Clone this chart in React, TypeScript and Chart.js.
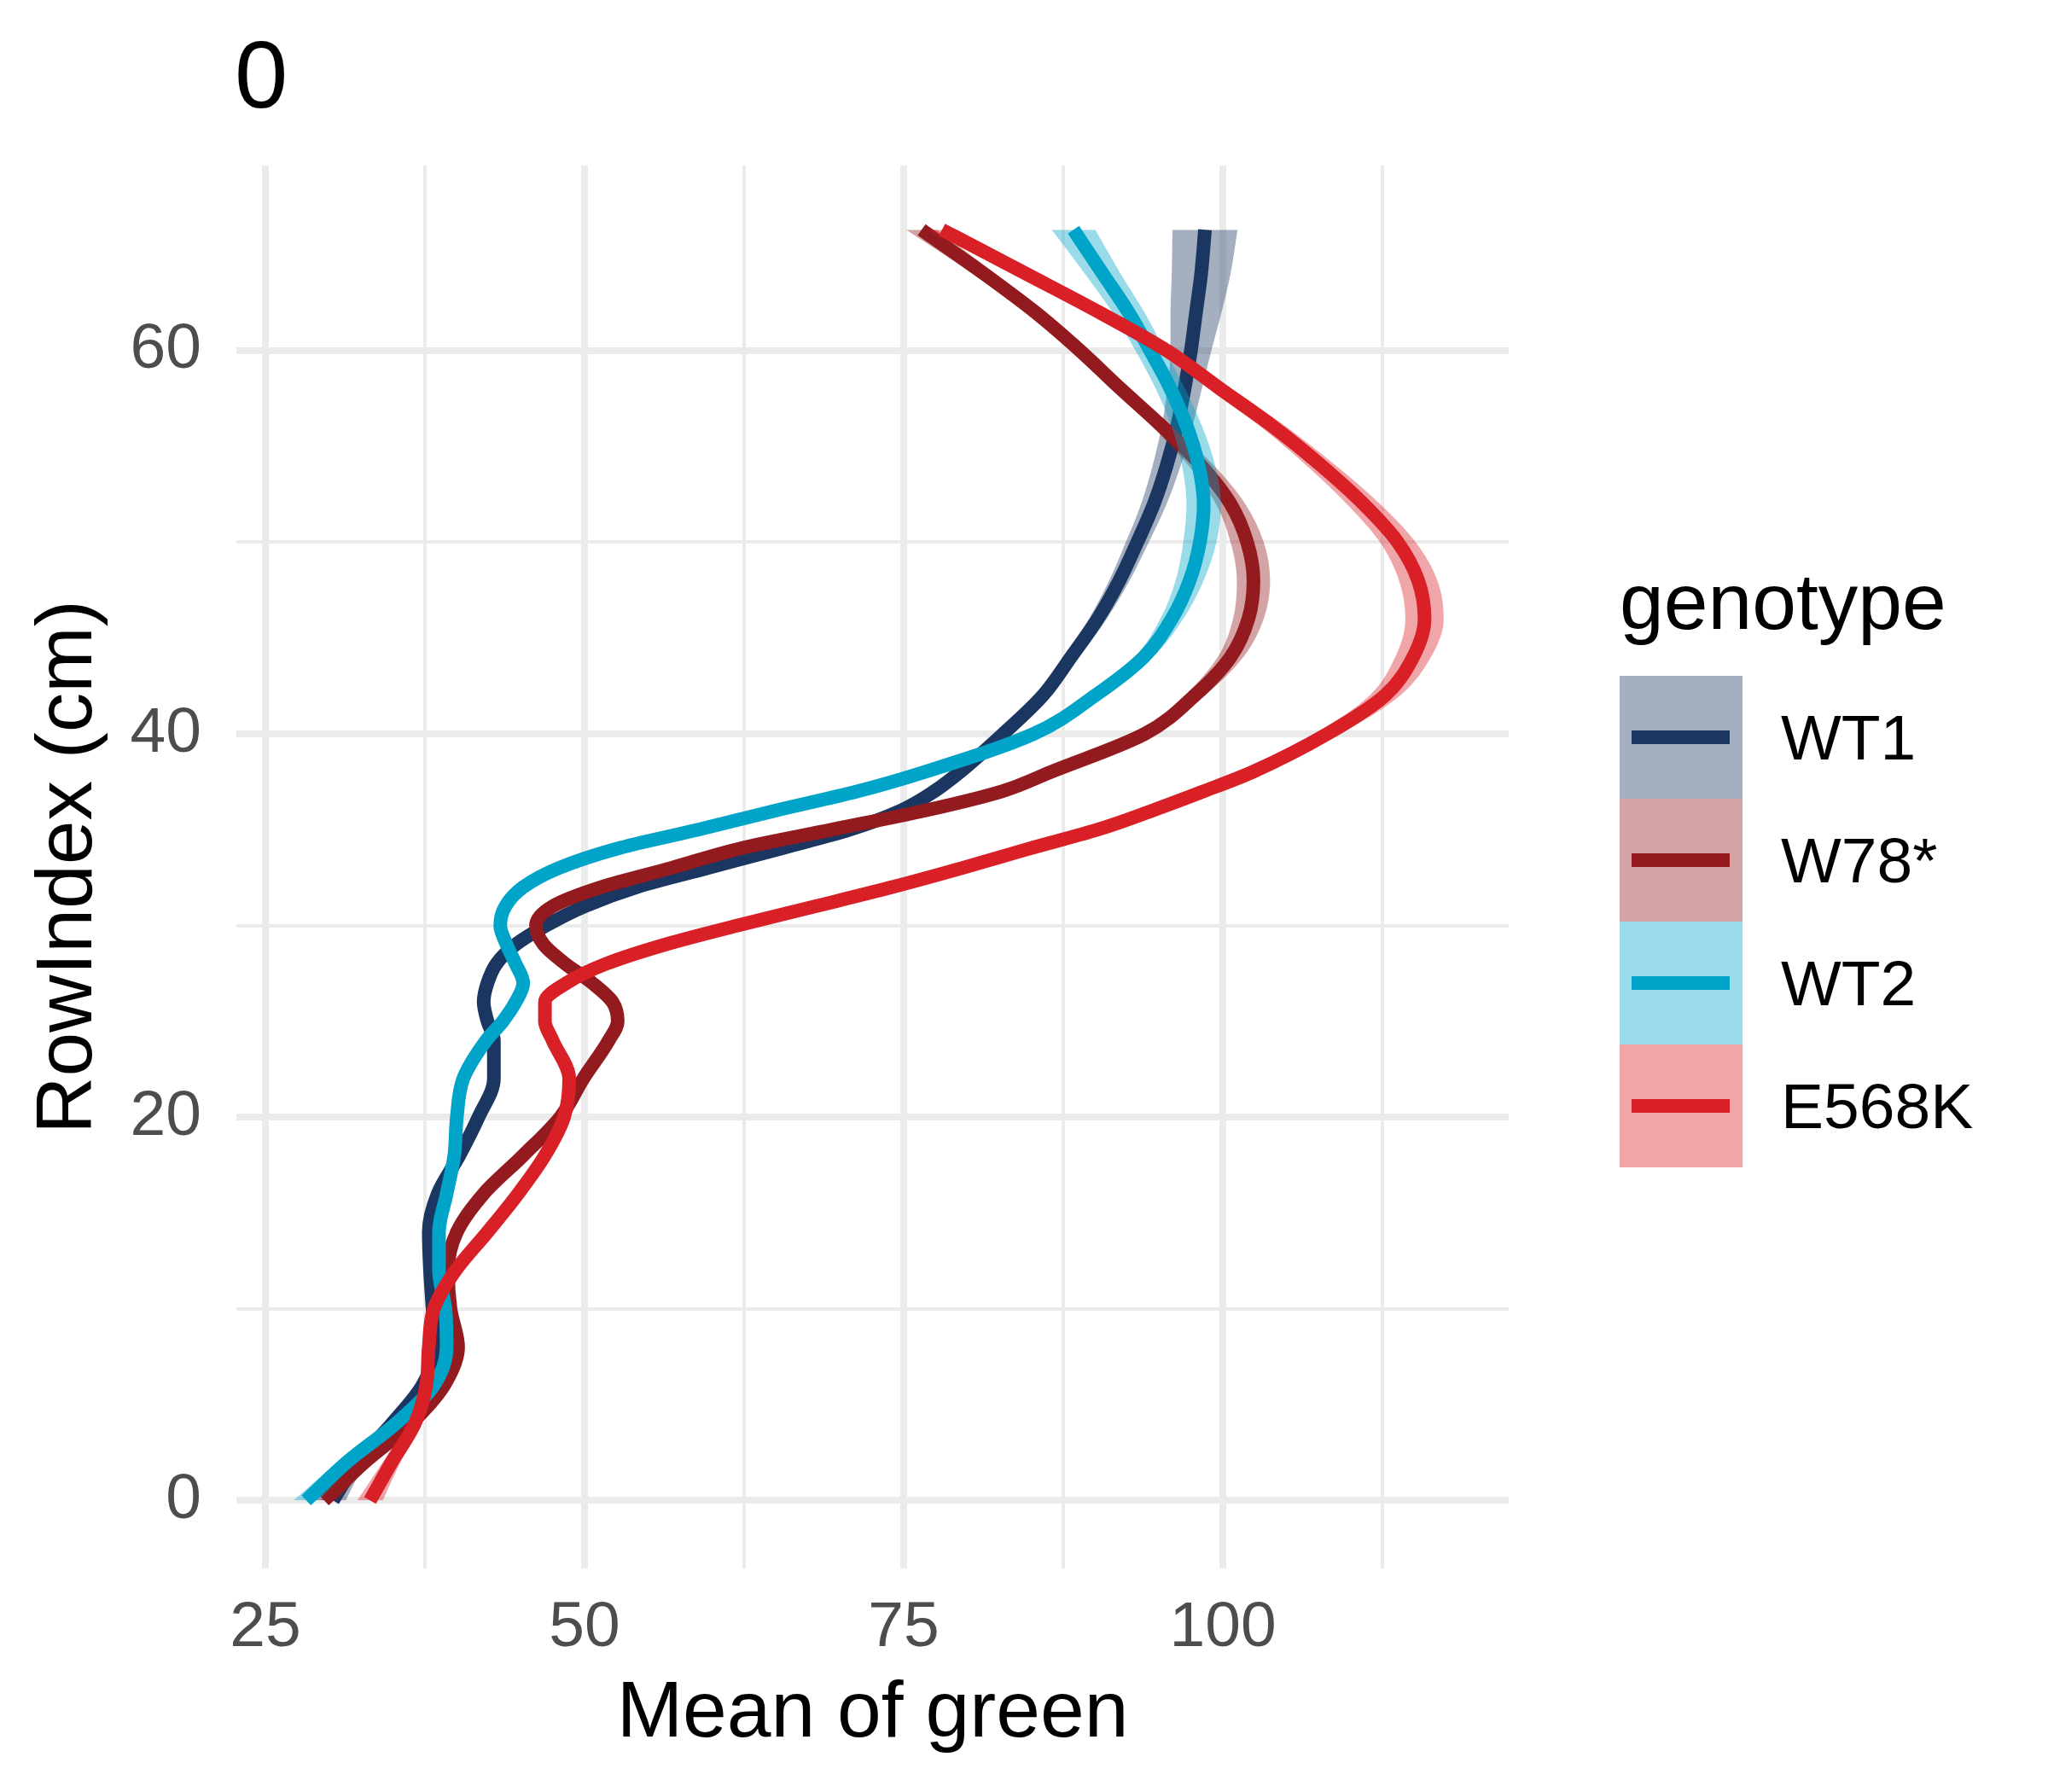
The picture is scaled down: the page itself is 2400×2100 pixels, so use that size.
import React, { useEffect, useRef } from 'react';
import { Chart, registerables } from 'chart.js';

Chart.register(...registerables);

const FONT = "'Liberation Sans', Arial, sans-serif";

// RowIndex (cm) rows at which the smoothed curves were read
const rowIndex = [
  0, 2, 4, 6, 8, 10, 12, 14, 16, 18, 20, 22, 24,
  25, 26, 27, 28, 29, 30, 31, 32, 33, 34, 35, 36, 37, 38,
  40, 42, 44, 46, 48, 50, 52, 54, 56, 58, 60, 62, 64, 66.3,
];

// mean of green per genotype (smoothed) and half-width of the band
const wt1Mean = [
  30.3, 32.2, 34.9, 37.3, 38.3, 38.1, 37.9, 37.8, 38.5, 40.2, 41.7, 42.9, 42.9,
  42.4, 42.1, 42.4, 43.1, 44.6, 47.0, 50.0, 54.1, 59.7, 65.3, 70.8, 74.8, 77.4, 79.4,
  82.8, 85.9, 88.1, 90.2, 91.9, 93.3, 94.6, 95.6, 96.4, 97.0, 97.5, 97.9, 98.3, 98.6,
];
const wt1Se = [
  1.0, 0.7, 0.55, 0.45, 0.45, 0.45, 0.45, 0.45, 0.45, 0.45, 0.45, 0.45, 0.45,
  0.45, 0.45, 0.45, 0.45, 0.45, 0.45, 0.45, 0.45, 0.45, 0.45, 0.45, 0.45, 0.45, 0.45,
  0.45, 0.55, 0.6, 0.7, 0.8, 0.9, 1.0, 1.1, 1.2, 1.35, 1.6, 2.0, 2.3, 2.55,
];

const w78Mean = [
  29.6, 32.8, 36.4, 39.0, 40.1, 39.5, 39.3, 40.0, 42.1, 45.2, 48.1, 49.9, 51.9,
  52.6, 52.2, 50.6, 48.5, 46.8, 46.2, 47.5, 51.3, 56.8, 62.1, 69.4, 76.7, 82.7, 86.5,
  93.9, 97.8, 100.6, 102.0, 102.4, 101.9, 100.6, 98.3, 95.3, 92.0, 88.8, 85.3, 81.3, 76.4,
];
const w78Se = [
  1.0, 0.7, 0.55, 0.45, 0.45, 0.45, 0.45, 0.45, 0.45, 0.45, 0.45, 0.45, 0.45,
  0.45, 0.45, 0.45, 0.45, 0.45, 0.45, 0.45, 0.45, 0.45, 0.45, 0.45, 0.45, 0.45, 0.45,
  0.6, 0.8, 1.0, 1.2, 1.3, 1.3, 1.15, 1.0, 0.8, 0.7, 0.7, 0.75, 0.9, 1.2,
];

const wt2Mean = [
  28.2, 31.4, 35.2, 38.2, 39.2, 39.1, 38.6, 38.6, 39.2, 39.8, 40.0, 40.5, 42.3,
  43.6, 44.6, 45.2, 44.6, 43.9, 43.4, 43.8, 45.2, 48.0, 52.5, 58.9, 65.0, 71.4, 76.6,
  85.2, 90.0, 93.8, 96.0, 97.4, 98.2, 98.5, 98.1, 97.2, 95.9, 94.3, 92.6, 90.6, 88.3,
];
const wt2Se = [
  1.0, 0.7, 0.55, 0.45, 0.45, 0.45, 0.45, 0.45, 0.45, 0.45, 0.45, 0.45, 0.45,
  0.45, 0.45, 0.45, 0.45, 0.45, 0.45, 0.45, 0.45, 0.45, 0.45, 0.45, 0.45, 0.45, 0.45,
  0.5, 0.55, 0.7, 0.9, 1.1, 1.3, 1.35, 1.3, 1.2, 1.15, 1.15, 1.25, 1.4, 1.7,
];

const e568kMean = [
  33.2, 34.9, 36.7, 37.6, 37.8, 38.2, 39.9, 42.4, 44.8, 46.9, 48.4, 48.8, 47.5,
  46.9, 46.9, 48.6, 51.7, 56.3, 62.0, 68.1, 74.1, 79.6, 84.8, 90.2, 94.5, 98.5, 102.3,
  108.2, 112.7, 114.9, 115.8, 115.3, 113.7, 111.0, 107.7, 104.0, 99.8, 95.6, 90.3, 84.6, 78.0,
];
const e568kSe = [
  1.0, 0.7, 0.55, 0.45, 0.45, 0.45, 0.45, 0.45, 0.45, 0.45, 0.45, 0.45, 0.45,
  0.45, 0.45, 0.45, 0.45, 0.45, 0.45, 0.45, 0.45, 0.45, 0.45, 0.45, 0.45, 0.45, 0.8,
  1.0, 1.2, 1.4, 1.5, 1.5, 1.4, 1.3, 1.15, 1.0, 0.9, 0.8, 0.8, 0.9, 1.2,
];

const genotypes = ['WT1', 'W78*', 'WT2', 'E568K'];
const lineColors = ['#1B3660', '#931B1F', '#00A4C8', '#D92027'];
const ribbonColors = [
  'rgba(27,54,96,0.4)',
  'rgba(147,27,31,0.4)',
  'rgba(0,164,200,0.4)',
  'rgba(217,32,39,0.4)',
];

const xMajorTicks = [25, 50, 75, 100];
const xMinorTicks = [37.5, 62.5, 87.5, 112.5];
const yMajorTicks = [0, 20, 40, 60];
const yMinorTicks = [10, 30, 50];

const means = [wt1Mean, w78Mean, wt2Mean, e568kMean];
const ses = [wt1Se, w78Se, wt2Se, e568kSe];

const App: React.FC = () => {
  const canvasRef = useRef<HTMLCanvasElement>(null);
  const chartRef = useRef<Chart | null>(null);

  useEffect(() => {
    document.body.style.margin = '0';
    if (!canvasRef.current) return;
    if (chartRef.current) chartRef.current.destroy();

    const datasets: any[] = [];
    genotypes.forEach((g, i) => {
      const mean = means[i];
      const se = ses[i];
      const seq = i * 3;
      // band first, then the line, each genotype over the previous one
      datasets.push({
        label: g + ' upper',
        data: rowIndex.map((r, k) => ({ x: mean[k] + se[k], y: r })),
        borderWidth: 0,
        borderColor: 'transparent',
        backgroundColor: ribbonColors[i],
        pointRadius: 0,
        fill: '+1',
        cubicInterpolationMode: 'monotone',
        order: 100 - seq,
      });
      datasets.push({
        label: g + ' lower',
        data: rowIndex.map((r, k) => ({ x: mean[k] - se[k], y: r })),
        borderWidth: 0,
        borderColor: 'transparent',
        pointRadius: 0,
        fill: false,
        cubicInterpolationMode: 'monotone',
        order: 99 - seq,
      });
      datasets.push({
        label: g,
        data: rowIndex.map((r, k) => ({ x: mean[k], y: r })),
        borderColor: lineColors[i],
        borderWidth: 16,
        borderJoinStyle: 'round',
        pointRadius: 0,
        fill: false,
        cubicInterpolationMode: 'monotone',
        order: 98 - seq,
      });
    });

    const gridWidth = (major: number[]) => (ctx: any) =>
      ctx.tick && major.includes(ctx.tick.value) ? 8 : 4;

    chartRef.current = new Chart(canvasRef.current, {
      type: 'line',
      data: { datasets },
      options: {
        responsive: false,
        devicePixelRatio: 1,
        animation: false,
        events: [],
        indexAxis: 'y',
        layout: { padding: { top: 194, right: 632, left: 0, bottom: 0 } },
        plugins: {
          legend: { display: false },
          tooltip: { enabled: false },
          filler: { propagate: false },
        },
        scales: {
          x: {
            type: 'linear',
            min: 22.73,
            max: 122.39,
            afterBuildTicks: (s: any) => {
              s.ticks = [...xMajorTicks, ...xMinorTicks]
                .sort((a, b) => a - b)
                .map((v) => ({ value: v }));
            },
            afterFit: (s: any) => {
              s.height = 262;
            },
            ticks: {
              autoSkip: false,
              maxRotation: 0,
              padding: 25,
              color: '#4D4D4D',
              font: { family: FONT, size: 75 },
              callback: (v: any) => (xMajorTicks.includes(Number(v)) ? String(v) : ''),
            },
            grid: { color: '#EBEBEB', lineWidth: gridWidth(xMajorTicks), drawTicks: false },
            border: { display: false },
            title: {
              display: true,
              text: 'Mean of green',
              color: '#000000',
              font: { family: FONT, size: 93 },
              padding: { top: 0, bottom: 35 },
            },
          },
          y: {
            type: 'linear',
            min: -3.55,
            max: 69.65,
            afterBuildTicks: (s: any) => {
              s.ticks = [...yMajorTicks, ...yMinorTicks]
                .sort((a, b) => a - b)
                .map((v) => ({ value: v }));
            },
            afterFit: (s: any) => {
              s.width = 277;
            },
            ticks: {
              autoSkip: false,
              padding: 41,
              color: '#4D4D4D',
              font: { family: FONT, size: 75 },
              callback: (v: any) => (yMajorTicks.includes(Number(v)) ? String(v) : ''),
            },
            grid: { color: '#EBEBEB', lineWidth: gridWidth(yMajorTicks), drawTicks: false },
            border: { display: false },
            title: {
              display: true,
              text: 'RowIndex (cm)',
              color: '#000000',
              font: { family: FONT, size: 93 },
              padding: { top: 26, bottom: 0 },
            },
          },
        },
      },
    });

    return () => {
      if (chartRef.current) {
        chartRef.current.destroy();
        chartRef.current = null;
      }
    };
  }, []);

  return (
    <div style={{ position: 'relative', width: 2400, height: 2100, background: '#ffffff', fontFamily: FONT }}>
      <canvas
        ref={canvasRef}
        width={2400}
        height={2100}
        style={{ position: 'absolute', left: 0, top: 0, width: 2400, height: 2100 }}
      />
      <div style={{ position: 'absolute', left: 275, top: 32, fontSize: 112, lineHeight: 1, color: '#000' }}>0</div>
      <div style={{ position: 'absolute', left: 1898, top: 659, fontSize: 93, lineHeight: 1, color: '#000' }}>
        genotype
      </div>
      {genotypes.map((g, i) => (
        <React.Fragment key={g}>
          <div
            style={{
              position: 'absolute',
              left: 1898,
              top: 792 + i * 144,
              width: 144,
              height: 144,
              background: ribbonColors[i],
            }}
          >
            <div
              style={{
                position: 'absolute',
                left: 14,
                width: 115,
                top: 64,
                height: 16,
                background: lineColors[i],
              }}
            />
          </div>
          <div
            style={{
              position: 'absolute',
              left: 2087,
              top: 792 + i * 144 + 72 - 37,
              fontSize: 75,
              lineHeight: 1,
              color: '#000',
              whiteSpace: 'nowrap',
            }}
          >
            {g}
          </div>
        </React.Fragment>
      ))}
    </div>
  );
};

export default App;
